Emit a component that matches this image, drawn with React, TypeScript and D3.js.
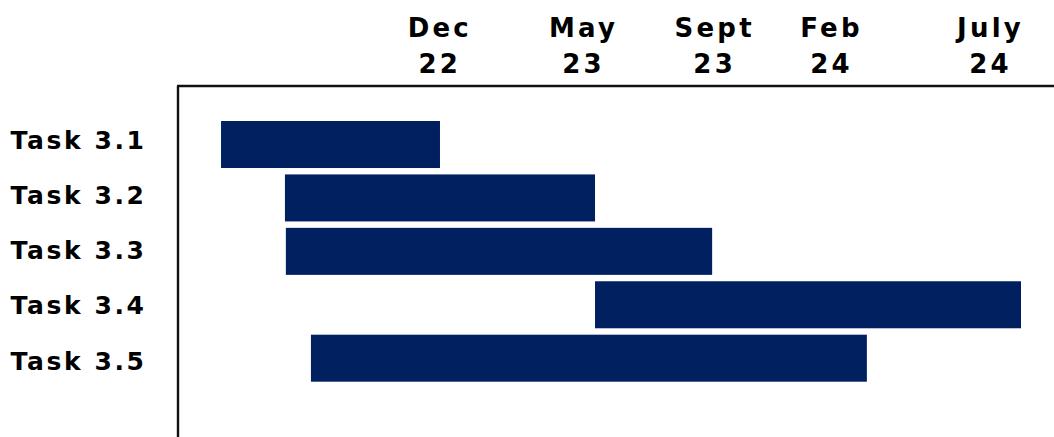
import React from "react";
import * as d3 from "d3";

// Data: months counted from Jan 2022 (0 = Jan 2022)
const tasks = ["Task 3.1", "Task 3.2", "Task 3.3", "Task 3.4", "Task 3.5"];
const startMonth = [3.84, 5.93, 5.96, 16.07, 6.78];
const endMonth = [11.0, 16.07, 19.9, 30.0, 24.96];
const tickMonths = [10.94, 15.64, 19.93, 23.75, 28.95];
const tickLine1 = ["Dec", "May", "Sept", "Feb", "July"];
const tickLine2 = ["22", "23", "23", "24", "24"];

const W = 1054;
const H = 437;
const FONT = "'DejaVu Sans', 'Liberation Sans', sans-serif";
const BAR = "#002060";

export default function App() {
  const x = d3.scaleLinear().domain([0, 30]).range([103.6, 1021]);
  const y = d3.scaleBand<string>().domain(tasks).range([121, 381.7]).paddingInner(0.12).paddingOuter(0);
  const yLabel = d3.scalePoint<string>().domain(tasks).range([139, 360]);
  const axisX = 178;
  const axisY = 86;
  const topLS = 3.2;
  const taskLS = 2.6;

  return (
    <svg
      width={W}
      height={H}
      style={{ position: "absolute", left: 0, top: 0, background: "#fff" }}
      fontFamily={FONT}
    >
      {/* top tick labels */}
      {tickMonths.map((m, i) => (
        <g key={i} transform={`translate(${x(m) + topLS / 2},0)`}>
          <text y={36.8} textAnchor="middle" fontSize={26} fontWeight="bold" letterSpacing={topLS} fill="#000">
            {tickLine1[i]}
          </text>
          <text y={72.8} textAnchor="middle" fontSize={26} fontWeight="bold" letterSpacing={topLS} fill="#000">
            {tickLine2[i]}
          </text>
        </g>
      ))}

      {/* axes */}
      <line x1={axisX - 1} x2={W} y1={axisY} y2={axisY} stroke="#111" strokeWidth={2.4} />
      <line x1={axisX} x2={axisX} y1={axisY} y2={H} stroke="#111" strokeWidth={2.4} />

      {/* task labels */}
      {tasks.map((t) => (
        <text
          key={t}
          x={10.5}
          y={(yLabel(t) as number) + 9.5}
          fontSize={25}
          fontWeight="bold"
          letterSpacing={taskLS}
          fill="#000"
        >
          {t}
        </text>
      ))}

      {/* bars */}
      {tasks.map((t, i) => (
        <rect
          key={t}
          x={x(startMonth[i])}
          y={y(t)}
          width={x(endMonth[i]) - x(startMonth[i])}
          height={y.bandwidth()}
          fill={BAR}
        />
      ))}
    </svg>
  );
}
